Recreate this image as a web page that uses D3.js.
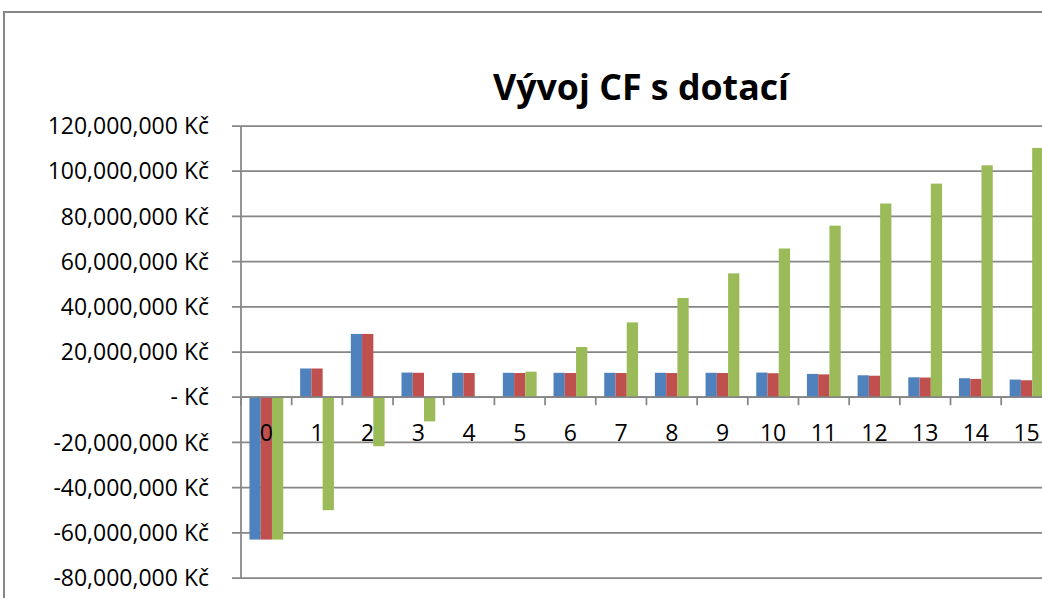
<!DOCTYPE html>
<html lang='cs'>
    <head>
        <meta charset="utf-8">
        <title>Vývoj CF s dotací</title>
        <script src='https://d3js.org/d3.v7.min.js'></script>
        <style>
            body { margin: 0; background: #fff; }
            text { font-family: 'Open Sans', 'Liberation Sans', sans-serif; fill: #000; }
        </style>
    </head>
    <body>
        <script type='text/javascript'>
            var w = 1042;
            var h = 598;

            // years 0..15
            var years = ['0','1','2','3','4','5','6','7','8','9','10','11','12','13','14','15'];
            var seriesNames = ['a', 'b', 'c'];
            var blueValues  = [-63e6, 12.7e6, 28e6, 10.9e6, 10.8e6, 10.8e6, 10.8e6, 10.8e6, 10.8e6, 10.8e6, 10.9e6, 10.3e6, 9.7e6, 8.8e6, 8.4e6, 7.8e6];
            var redValues   = [-63e6, 12.7e6, 28e6, 10.8e6, 10.7e6, 10.7e6, 10.7e6, 10.7e6, 10.7e6, 10.7e6, 10.6e6, 10.1e6, 9.5e6, 8.7e6, 8.1e6, 7.5e6];
            var greenValues = [-63e6, -50e6, -21.7e6, -10.7e6, 0.3e6, 11.3e6, 22.2e6, 33.1e6, 43.9e6, 54.8e6, 65.8e6, 75.9e6, 85.7e6, 94.5e6, 102.6e6, 110.3e6];
            var yTicks = [-80e6, -60e6, -40e6, -20e6, 0, 20e6, 40e6, 60e6, 80e6, 100e6, 120e6];
            var colors = ['#4F81BD', '#C0504D', '#9BBB59'];

            var left = 241;
            var step = 50.68;
            var gridColor = '#868686';

            var xScale = d3.scaleBand()
                .domain(years)
                .range([left, left + step * years.length]);

            var innerScale = d3.scaleBand()
                .domain(seriesNames)
                .range([0, xScale.bandwidth()])
                .paddingInner(0)
                .paddingOuter(0.75);

            var yScale = d3.scaleLinear()
                .domain([-80e6, 120e6])
                .range([578, 126]);

            var svg = d3.select('body')
                        .append('svg')
                        .attr('width', w)
                        .attr('height', h);

            // chart border
            svg.append('rect')
                .attr('x', 4).attr('y', 12)
                .attr('width', 1200).attr('height', 700)
                .attr('fill', '#fff')
                .attr('stroke', gridColor)
                .attr('stroke-width', 2);

            // title
            svg.append('text')
                .attr('x', 641)
                .attr('y', 100)
                .attr('text-anchor', 'middle')
                .attr('font-size', '35px')
                .attr('font-weight', 'bold')
                .attr('textLength', 296)
                .attr('lengthAdjust', 'spacingAndGlyphs')
                .text('Vývoj CF s dotací');

            // gridlines
            var xRight = xScale.range()[1];
            svg.selectAll('line.grid')
                .data(yTicks)
                .enter()
                .append('line')
                .attr('class', 'grid')
                .attr('x1', left - 9)
                .attr('x2', xRight)
                .attr('y1', function(d){ return yScale(d); })
                .attr('y2', function(d){ return yScale(d); })
                .attr('stroke', gridColor)
                .attr('stroke-width', 1.75);

            // y axis line
            svg.append('line')
                .attr('x1', left).attr('x2', left)
                .attr('y1', yScale(120e6)).attr('y2', yScale(-80e6))
                .attr('stroke', gridColor)
                .attr('stroke-width', 1.75);

            // y labels
            var fmt = d3.format(',');
            svg.selectAll('text.ylab')
                .data(yTicks)
                .enter()
                .append('text')
                .attr('class', 'ylab')
                .attr('x', 209)
                .attr('y', function(d){ return yScale(d); })
                .attr('dy', '0.36em')
                .attr('text-anchor', 'end')
                .attr('font-size', '23px')
                .text(function(d){
                    if (d === 0) return '- Kč';
                    return fmt(d).replace('−', '-') + ' Kč';
                });

            // bars
            var allSeries = [blueValues, redValues, greenValues];
            allSeries.forEach(function(vals, si){
                svg.selectAll('rect.s' + si)
                    .data(vals)
                    .enter()
                    .append('rect')
                    .attr('class', 's' + si)
                    .attr('x', function(d, i){ return xScale(years[i]) + innerScale(seriesNames[si]); })
                    .attr('width', innerScale.bandwidth())
                    .attr('y', function(d){ return yScale(Math.max(0, d)); })
                    .attr('height', function(d){ return Math.abs(yScale(d) - yScale(0)); })
                    .attr('fill', colors[si]);
            });

            // x axis at zero with ticks between categories
            var y0 = yScale(0);
            svg.append('line')
                .attr('x1', left).attr('x2', xRight)
                .attr('y1', y0).attr('y2', y0)
                .attr('stroke', gridColor)
                .attr('stroke-width', 1.75);

            svg.selectAll('line.xtick')
                .data(years)
                .enter()
                .append('line')
                .attr('class', 'xtick')
                .attr('x1', function(d){ return xScale(d); })
                .attr('x2', function(d){ return xScale(d); })
                .attr('y1', y0)
                .attr('y2', y0 + 8)
                .attr('stroke', gridColor)
                .attr('stroke-width', 1.75);

            svg.selectAll('text.xlab')
                .data(years)
                .enter()
                .append('text')
                .attr('class', 'xlab')
                .attr('x', function(d){ return xScale(d) + xScale.bandwidth() / 2; })
                .attr('y', y0 + 44)
                .attr('text-anchor', 'middle')
                .attr('font-size', '23px')
                .text(function(d){ return d; });
        </script>
    </body>
</html>
